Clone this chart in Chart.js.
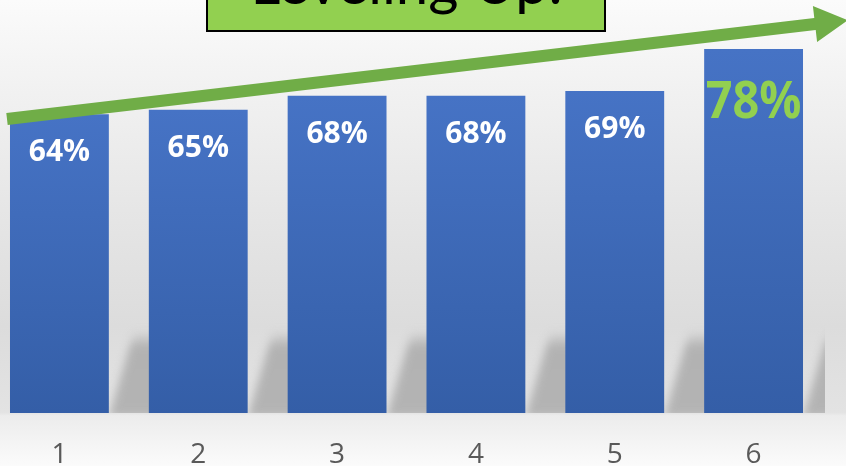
<!DOCTYPE html>
<html>
<head>
<meta charset="utf-8">
<script src="https://cdn.jsdelivr.net/npm/chart.js@4.4.1/dist/chart.umd.min.js"></script>
<style>
html, body { margin:0; padding:0; overflow:hidden; width:846px; height:466px; }
body { background: linear-gradient(to bottom, #fbfbfb 0%, #f1f1f1 20%, #e6e6e6 45%, #dcdcdc 70%, #e3e3e3 88.5%, #ececec 89.2%, #fbfbfb 100%); }
#chart { position:absolute; left:-10px; top:0; }
</style>
</head>
<body>
<canvas id="chart" width="856" height="466"></canvas>
<script>
// data
const weeks = ["1", "2", "3", "4", "5", "6"];
const scores = [64, 65, 68, 68, 69, 78];
const titleText = "Leveling Up!";

// grey floor shadow behind the bars
const shadowPlugin = {
    id: 'shadow',
    beforeDatasetsDraw(chart){
        const ctx = chart.ctx;
        const area = chart.chartArea;
        const bars = chart.getDatasetMeta(0).data;
        const h = 82, skew = 0.31 * h;
        ctx.save();
        ctx.beginPath();
        ctx.rect(area.left, area.top, area.right + 2 - area.left, area.bottom - area.top);
        ctx.clip();
        ctx.filter = 'blur(4px)';
        bars.forEach((bar, i) => {
            const right = bar.x + bar.width / 2;
            const base = bar.base;
            const next = bars[i + 1];
            const end = next ? next.x - next.width / 2 + 10 : area.right + 40;
            const g = ctx.createLinearGradient(0, base - h, 0, base);
            g.addColorStop(0, 'rgba(178,178,178,0)');
            g.addColorStop(0.2, 'rgba(178,178,178,1)');
            g.addColorStop(1, 'rgba(180,180,180,1)');
            ctx.fillStyle = g;
            ctx.beginPath();
            ctx.moveTo(right, base + 4);
            ctx.lineTo(right + skew, base - h);
            ctx.lineTo(end, base - h);
            ctx.lineTo(end, base + 4);
            ctx.closePath();
            ctx.fill();
        });
        ctx.restore();
    }
};

// value labels inside the bars, biggest one in green
const labelPlugin = {
    id: 'valueLabels',
    afterDatasetsDraw(chart){
        const ctx = chart.ctx;
        const bars = chart.getDatasetMeta(0).data;
        const top = Math.max(...scores);
        bars.forEach((bar, i) => {
            const v = scores[i];
            const big = v === top;
            ctx.save();
            ctx.font = 'bold ' + (big ? 52 : 30) + 'px "Open Sans"';
            ctx.fillStyle = big ? '#92d050' : '#ffffff';
            ctx.textAlign = 'center';
            ctx.textBaseline = 'alphabetic';
            ctx.translate(bar.x, bar.y + (big ? 69 : 47));
            if(big) ctx.scale(0.9, 1);
            ctx.fillText(v + '%', 0, 0);
            ctx.restore();
        });
    }
};

// arrow and title box on top
const decorPlugin = {
    id: 'decor',
    afterDraw(chart){
        const ctx = chart.ctx;
        const off = 10; // canvas sits 10px left of the page
        // arrow
        const ax = 7 + off, ay = 119, bx = 815 + off, by = 24;
        const len = Math.hypot(bx - ax, by - ay);
        const ux = (bx - ax) / len, uy = (by - ay) / len;
        const nx = -uy, ny = ux;
        const w = 6, hw = 18, hl = 33;
        ctx.save();
        ctx.fillStyle = '#70ad47';
        ctx.beginPath();
        ctx.moveTo(ax - w * nx, ay - w * ny);
        ctx.lineTo(bx - w * nx, by - w * ny);
        ctx.lineTo(bx - hw * nx, by - hw * ny);
        ctx.lineTo(bx + hl * ux, by + hl * uy);
        ctx.lineTo(bx + hw * nx, by + hw * ny);
        ctx.lineTo(bx + w * nx, by + w * ny);
        ctx.lineTo(ax + w * nx, ay + w * ny);
        ctx.closePath();
        ctx.fill();

        // title box
        const left = 207 + off, right = 605 + off, bottom = 31;
        ctx.fillStyle = '#92d050';
        ctx.fillRect(left, -10, right - left, bottom + 10);
        ctx.strokeStyle = '#000000';
        ctx.lineWidth = 2;
        ctx.strokeRect(left, -10, right - left, bottom + 10);
        ctx.font = '100px Lato';
        const size = 100 * 313 / ctx.measureText(titleText).width;
        ctx.font = size + 'px Lato';
        ctx.fillStyle = '#000000';
        ctx.textAlign = 'center';
        ctx.textBaseline = 'alphabetic';
        ctx.fillText(titleText, (left + right) / 2 + 1, 4);
        ctx.restore();
    }
};

const chart = new Chart(document.getElementById('chart'), {
    type: 'bar',
    data: {
        labels: weeks,
        datasets: [{
            data: scores,
            backgroundColor: (c) => {
                const ch = c.chart;
                if(!ch.chartArea || c.raw === undefined) return '#4472c4';
                const y = ch.scales.y;
                const g = ch.ctx.createLinearGradient(0, y.getPixelForValue(c.raw), 0, y.getPixelForValue(0));
                g.addColorStop(0, '#4673c5');
                g.addColorStop(1, '#345ea7');
                return g;
            },
            borderWidth: 0,
            barPercentage: 0.712,
            categoryPercentage: 1
        }]
    },
    options: {
        responsive: false,
        animation: false,
        layout: { padding: { left: 0, right: 23, top: 0, bottom: 0 } },
        plugins: { legend: { display: false }, tooltip: { enabled: false } },
        scales: {
            x: {
                grid: { display: false },
                border: { display: false },
                ticks: { color: '#595959', font: { family: 'Open Sans', size: 28 }, padding: 17 },
                afterFit(scale){ scale.height = 53; }
            },
            y: { display: false, min: 0, max: 88.5 }
        }
    },
    plugins: [shadowPlugin, labelPlugin, decorPlugin]
});
</script>
</body>
</html>
